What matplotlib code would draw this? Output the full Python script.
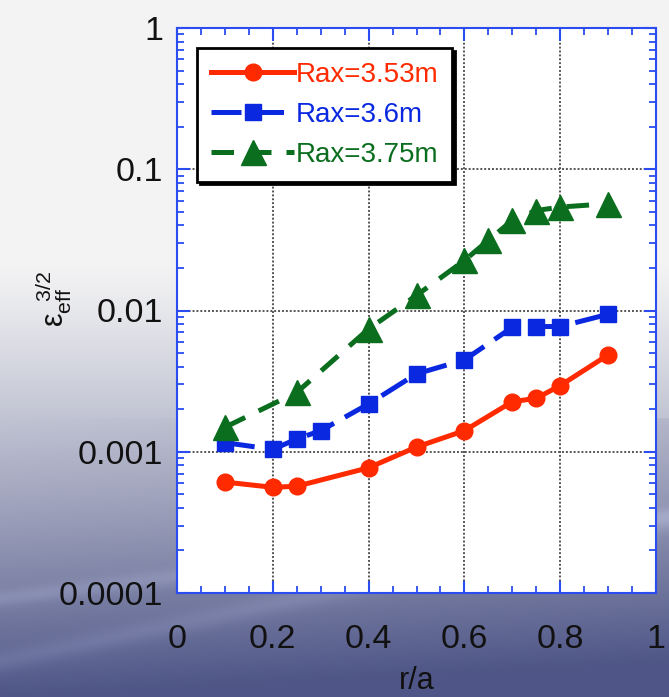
import numpy as np
import matplotlib
matplotlib.use("Agg")
import matplotlib.pyplot as plt
from matplotlib.ticker import FixedLocator, LogLocator, NullFormatter, FixedFormatter

plt.rcParams['font.family'] = ['Liberation Sans', 'DejaVu Sans']
plt.rcParams['mathtext.fontset'] = 'custom'
plt.rcParams['mathtext.rm'] = 'Liberation Sans'
plt.rcParams['mathtext.it'] = 'Liberation Sans'

# effective helical ripple vs normalized radius for three axis positions
r_353 = [0.1, 0.2, 0.25, 0.4, 0.5, 0.6, 0.7, 0.75, 0.8, 0.9]
eps_353 = [6.1e-4, 5.6e-4, 5.7e-4, 7.7e-4, 1.08e-3, 1.41e-3, 2.26e-3, 2.39e-3, 2.94e-3, 4.85e-3]

r_36 = [0.1, 0.2, 0.25, 0.3, 0.4, 0.5, 0.6, 0.7, 0.75, 0.8, 0.9]
eps_36 = [1.16e-3, 1.04e-3, 1.23e-3, 1.41e-3, 2.18e-3, 3.56e-3, 4.47e-3, 7.6e-3, 7.7e-3, 7.7e-3, 9.4e-3]

r_375 = [0.1, 0.25, 0.4, 0.5, 0.6, 0.65, 0.7, 0.75, 0.8, 0.9]
eps_375 = [1.49e-3, 2.63e-3, 7.4e-3, 1.28e-2, 2.26e-2, 3.14e-2, 4.35e-2, 5.1e-2, 5.4e-2, 5.7e-2]

labels = ['Rax=3.53m', 'Rax=3.6m', 'Rax=3.75m']
colors = ['#ff2a00', '#0a28e0', '#0b6e1e']

x_ticks = [0, 0.2, 0.4, 0.6, 0.8, 1]
x_ticklabels = ['0', '0.2', '0.4', '0.6', '0.8', '1']
y_ticks = [1e-4, 1e-3, 1e-2, 1e-1, 1]
y_ticklabels = ['0.0001', '0.001', '0.01', '0.1', '1']

W, H = 669, 697
fig = plt.figure(figsize=(W / 100, H / 100), dpi=100)

# slide background: light grey on top fading into slate blue at the bottom
bg = fig.add_axes([0, 0, 1, 1], zorder=-10)
yy = np.linspace(0, 1, 400)[:, None]
xx = np.linspace(0, 1, 400)[None, :]
t = np.clip((yy - 0.38) / 0.62 + 0.08 * xx * (yy > 0.6), 0, 1) ** 1.15
top = np.array([0.953, 0.953, 0.957])
bottom = np.array([0.31, 0.34, 0.53])
img = top[None, None, :] * (1 - t[..., None]) + bottom[None, None, :] * t[..., None]
# a couple of faint diagonal streaks near the bottom
streak = np.exp(-((yy - (0.86 - 0.12 * xx)) / 0.012) ** 2) * 0.06
streak += np.exp(-((yy - (0.95 - 0.2 * xx)) / 0.015) ** 2) * 0.05
img = np.clip(img + streak[..., None], 0, 1)
bg.imshow(img, aspect='auto', extent=[0, 1, 0, 1], origin='upper')
bg.axis('off')

ax = fig.add_axes([177 / W, 1 - 593 / H, (656 - 177) / W, (593 - 28) / H])
ax.set_facecolor('white')

ax.plot(r_353, eps_353, '-', color=colors[0], lw=3.6, marker='o', ms=12, label=labels[0])
ax.plot(r_36, eps_36, color=colors[1], lw=3.6, marker='s', ms=12,
        dashes=(6, 2.5), label=labels[1])
ax.plot(r_375, eps_375, color=colors[2], lw=3.6, marker='^', ms=18,
        dashes=(4.5, 3), label=labels[2])

ax.set_yscale('log')
ax.set_xlim(0, 1)
ax.set_ylim(1e-4, 1)

ax.xaxis.set_major_locator(FixedLocator(x_ticks))
ax.xaxis.set_major_formatter(FixedFormatter(x_ticklabels))
ax.xaxis.set_minor_locator(FixedLocator(np.arange(0.05, 1.0, 0.05)))
ax.yaxis.set_major_locator(FixedLocator(y_ticks))
ax.yaxis.set_major_formatter(FixedFormatter(y_ticklabels))
ax.yaxis.set_minor_locator(LogLocator(base=10, subs=np.arange(2, 10)))
ax.yaxis.set_minor_formatter(NullFormatter())

spine_col = '#2a4cf0'
for s in ax.spines.values():
    s.set_color(spine_col)
    s.set_linewidth(1.5)
ax.tick_params(which='both', direction='in', top=True, right=True, color=spine_col,
               labelsize=24.5, labelcolor='#111111')
ax.tick_params(which='major', length=9, width=1.5, pad=10)
ax.tick_params(which='minor', length=5, width=1.3)
ax.tick_params(axis='x', which='major', pad=22)

ax.grid(True, which='major', color='#555555', ls=(0, (1, 1)), lw=1.4)

ax.set_xlabel('r/a', fontsize=22, color='#111111', labelpad=8)
ax.set_ylabel(r'$\mathrm{\varepsilon}_{\mathrm{eff}}^{\ \ 3/2}$', fontsize=22, color='#111111')
ax.yaxis.set_label_coords(-0.215, 0.52)

leg = ax.legend(loc='upper left', bbox_to_anchor=(20 / 479, 1 - 20 / 565), fontsize=20,
                frameon=True, fancybox=False, shadow={'color': 'black', 'alpha': 1},
                handlelength=3.0, handletextpad=0.05, labelspacing=0.5, borderpad=0.5,
                borderaxespad=0)
leg.get_frame().set_edgecolor('black')
leg.get_frame().set_linewidth(2)
for txt, c in zip(leg.get_texts(), colors):
    txt.set_color(c)

fig.savefig('out.png', dpi=100)
